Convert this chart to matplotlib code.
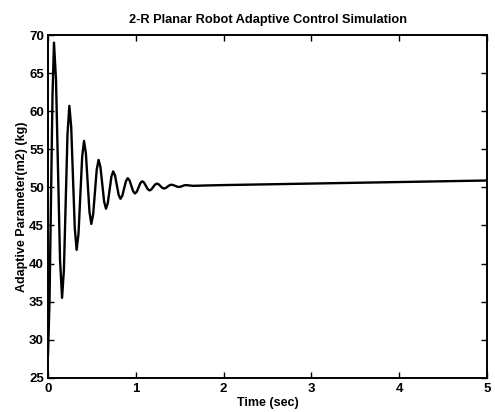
import matplotlib
matplotlib.use("Agg")
import matplotlib.pyplot as plt

plt.rcParams['font.family'] = ['Liberation Sans', 'DejaVu Sans']

# Time (sec) and adaptive parameter m2 (kg)
time_s = [
    0.0, 0.017, 0.034, 0.051, 0.068,
    0.091, 0.114, 0.137, 0.160,
    0.181, 0.2015, 0.222, 0.243,
    0.264, 0.2845, 0.305, 0.326,
    0.347, 0.368, 0.389, 0.41,
    0.431, 0.4515, 0.472, 0.493,
    0.514, 0.5345, 0.555, 0.576,
    0.597, 0.618, 0.639, 0.66,
    0.6805, 0.701, 0.7215, 0.742,
    0.763, 0.7835, 0.804, 0.825,
    0.846, 0.8665, 0.887, 0.908,
    0.9285, 0.949, 0.9695, 0.99,
    1.011, 1.0315, 1.052, 1.073,
    1.094, 1.1145, 1.135, 1.156,
    1.177, 1.198, 1.219, 1.24,
    1.26, 1.28, 1.30, 1.32,
    1.341, 1.3625, 1.384, 1.405,
    1.426, 1.4475, 1.469, 1.49,
    1.51, 1.53, 1.55, 1.57,
    1.65, 1.8, 2.0, 2.5, 3.0, 3.5, 4.0, 4.5, 5.0,
]
m2_kg = [
    28.0, 35.0, 48.5, 62.0, 69.0,
    64.09, 52.25, 40.41, 35.5,
    39.19, 48.1, 57.01, 60.7,
    57.93, 51.25, 44.57, 41.8,
    43.89, 48.95, 54.01, 56.1,
    54.5, 50.65, 46.8, 45.2,
    46.43, 49.4, 52.37, 53.6,
    52.66, 50.4, 48.14, 47.2,
    47.92, 49.65, 51.38, 52.1,
    51.57, 50.3, 49.03, 48.5,
    48.9, 49.85, 50.8, 51.2,
    50.91, 50.2, 49.49, 49.2,
    49.43, 50.0, 50.57, 50.8,
    50.62, 50.2, 49.78, 49.6,
    49.73, 50.05, 50.37, 50.5,
    50.4, 50.175, 49.95, 49.85,
    49.92, 50.1, 50.28, 50.35,
    50.3, 50.2, 50.1, 50.05,
    50.09, 50.175, 50.26, 50.3,
    50.2, 50.25, 50.3, 50.4, 50.5, 50.6, 50.7, 50.8, 50.9,
]

x_ticks = [0, 1, 2, 3, 4, 5]
y_ticks = [25, 30, 35, 40, 45, 50, 55, 60, 65, 70]

fig = plt.figure(figsize=(4.95, 4.12), dpi=100)
ax = fig.add_axes([0.097, 0.083, 0.887, 0.832])
ax.plot(time_s, m2_kg, color='black', linewidth=1.7)

ax.set_xlim(0, 5)
ax.set_ylim(25, 70)
ax.set_xticks(x_ticks)
ax.set_yticks(y_ticks)
ax.tick_params(direction='in', length=4, width=1.0, top=True, right=True,
               labelsize=9.5, pad=3)
ax.tick_params(axis='x', pad=4)
for lab in ax.get_xticklabels() + ax.get_yticklabels():
    lab.set_fontweight('bold')
for sp in ax.spines.values():
    sp.set_linewidth(1.4)

ax.set_title('2-R Planar Robot Adaptive Control Simulation', fontsize=9.2,
             fontweight='bold', pad=9)
ax.set_xlabel('Time (sec)', fontsize=9, fontweight='bold', labelpad=1)
ax.set_ylabel('Adaptive Parameter(m2) (kg)', fontsize=9, fontweight='bold',
              labelpad=1)

fig.savefig('out.png', dpi=100)
